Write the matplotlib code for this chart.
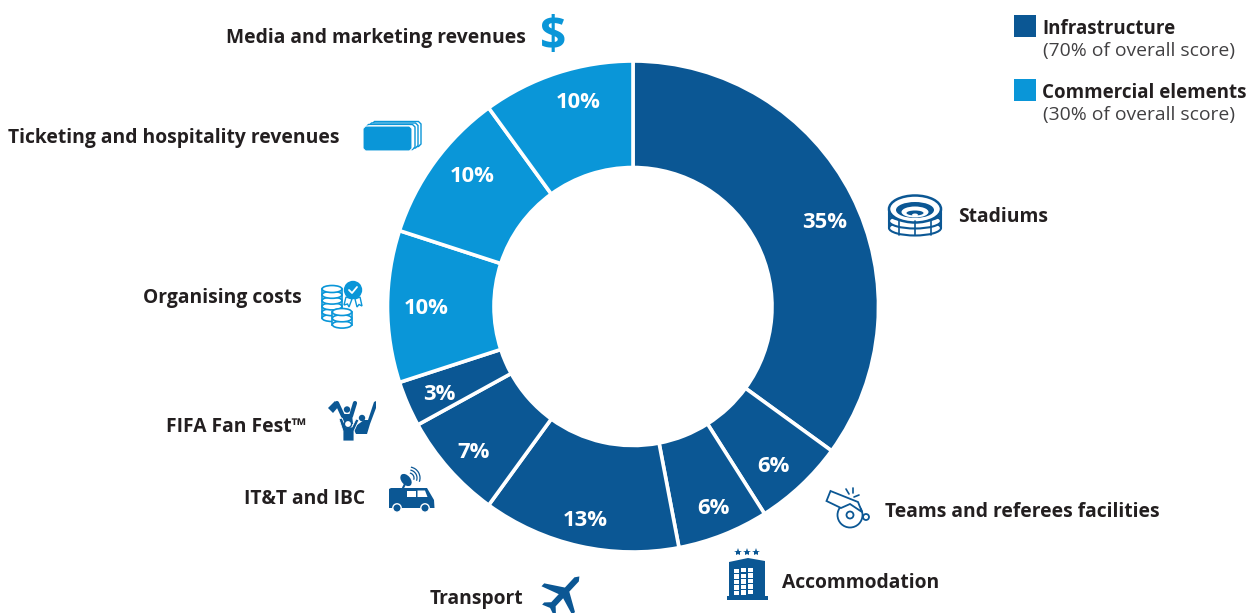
import matplotlib
matplotlib.use("Agg")
import matplotlib.pyplot as plt
from matplotlib.patches import Polygon, Circle, Ellipse, Rectangle, Arc
import numpy as np

DARK = "#0b5794"
LIGHT = "#0a96d8"
INK = "#231f20"
GREY = "#414042"

categories = ["Stadiums", "Teams and referees facilities", "Accommodation", "Transport",
              "IT&T and IBC", "FIFA Fan Fest\u2122", "Organising costs",
              "Ticketing and hospitality revenues", "Media and marketing revenues"]
weights = [35, 6, 6, 13, 7, 3, 10, 10, 10]
groups = ["Infrastructure"] * 6 + ["Commercial elements"] * 3
legend_titles = ["Infrastructure", "Commercial elements"]
legend_notes = ["(70% of overall score)", "(30% of overall score)"]

W, H = 1260, 613
plt.rcParams["font.family"] = ["Open Sans", "DejaVu Sans"]
fig = plt.figure(figsize=(W / 100, H / 100), dpi=100, facecolor="white")

# donut
cx, cy, R = 633, 306.5, 245.5
pie_ax = fig.add_axes([(cx - R) / W, 1 - (cy + R) / H, 2 * R / W, 2 * R / H])
colors = [DARK if g == "Infrastructure" else LIGHT for g in groups]
wedges, _ = pie_ax.pie(weights, colors=colors, startangle=90, counterclock=False, radius=1,
                       wedgeprops=dict(width=1 - 139 / 245.5, edgecolor="white", linewidth=2.6))
pie_ax.set_xlim(-1, 1)
pie_ax.set_ylim(-1, 1)
pie_ax.set_aspect("equal")
pie_ax.axis("off")

# overlay in pixel coordinates
ax = fig.add_axes([0, 0, 1, 1])
ax.set_xlim(0, W)
ax.set_ylim(H, 0)
ax.axis("off")
ax.patch.set_alpha(0)

pct_xy = [(825, 222), (773, 466), (713, 508), (585, 520), (474, 453), (439, 394),
          (426, 308), (472, 176), (578, 103)]
for w, (x, y) in zip(weights, pct_xy):
    ax.text(x, y, f"{w}%", color="white", fontsize=15.8, fontweight="bold", ha="center", va="center")

label_xy = [(958, 217, "left"), (885, 512, "left"), (782, 583, "left"), (523, 599, "right"),
            (365, 499, "right"), (306, 427, "right"), (302, 298, "right"),
            (340, 138, "right"), (526, 38, "right")]
for name, (x, y, ha) in zip(categories, label_xy):
    ax.text(x, y, name, color=INK, fontsize=13.85, fontweight="bold", ha=ha, va="center")

# legend
for title, note, col, y in zip(legend_titles, legend_notes, [DARK, LIGHT], [26, 90]):
    ax.add_patch(Rectangle((1014, y - 11), 22, 22, fc=col, ec="none"))
    ax.text(1042.5, y + 3, title, color=INK, fontsize=13.5, fontweight="bold", ha="left", va="center")
    ax.text(1043, y + 25, note, color=GREY, fontsize=13.9, ha="left", va="center")


def poly(pts, **kw):
    kw.setdefault("ec", "none")
    ax.add_patch(Polygon(pts, closed=True, **kw))


def line(pts, color, lw=1.3):
    p = np.array(pts)
    ax.plot(p[:, 0], p[:, 1], color=color, lw=lw, solid_capstyle="round")


# $ icon
ax.text(553, 38, "$", color=LIGHT, fontsize=33, fontweight="bold", ha="center", va="center")


# tickets
def ticket(x0, y0, x1, y1, fc, ec="white", lw=1.0):
    c = 2.5
    poly([(x0 + c, y0), (x1 - c, y0), (x1, y0 + c), (x1, y1 - c), (x1 - c, y1), (x0 + c, y1), (x0, y1 - c), (x0, y0 + c)],
         fc=fc, ec=ec, lw=lw)


ticket(372, 121.5, 421, 146.5, "white", ec=LIGHT, lw=1)
ticket(369, 123, 418, 148, "white", ec=LIGHT, lw=1)
ticket(366, 124.5, 415, 149.5, "white", ec=LIGHT, lw=1)
ticket(363, 126, 412, 151, LIGHT, ec="white", lw=0.8)


# coins
def coin_stack(x, ytop, w, n, step):
    h = 7
    ax.add_patch(Rectangle((x - w / 2, ytop), w, n * step, fc="white", ec=LIGHT, lw=1.2))
    for i in range(n, -1, -1):
        y = ytop + i * step
        ax.add_patch(Ellipse((x, y), w, h, fc="white", ec=LIGHT, lw=1.2))


coin_stack(332, 289, 20, 5, 5.8)
coin_stack(342, 312, 19.5, 2, 6.3)
poly([(346, 297), (352, 299), (349, 307), (347.5, 304), (344, 305)], fc="white", ec=LIGHT, lw=1)
poly([(355, 299), (360, 297), (362, 306), (359, 304.5), (357, 307)], fc="white", ec=LIGHT, lw=1)
ax.add_patch(Circle((353, 290), 9.2, fc=LIGHT, ec="none"))
line([(349, 290), (352, 293), (357, 287)], "white", 1.3)

# fans
poly([(328, 408), (335, 401), (339, 406), (333, 413)], fc=DARK)
line([(337, 403), (343, 416)], DARK, 3)
line([(355, 403), (351, 416)], DARK, 3)
poly([(342, 414), (352, 414), (353, 424), (343, 424)], fc=DARK)
ax.add_patch(Circle((347, 409.5), 3.2, fc=DARK, ec="none"))
poly([(353, 428), (364, 420), (368, 420), (374, 402), (376, 401), (376, 408), (370, 424), (367, 434), (356, 434)], fc=DARK)
ax.add_patch(Circle((362, 418), 3.2, fc=DARK, ec="none"))
poly([(339, 419), (342, 418), (346, 427), (352, 427), (356, 419), (359, 420), (354, 431), (354, 441), (343, 441), (343, 431)],
     fc=DARK, ec="white", lw=0.6)
ax.add_patch(Circle((348, 424), 3.6, fc="white", ec=DARK, lw=1))

# van + dish
poly([(389, 489), (391, 488), (427, 488), (434, 500), (434.5, 508), (389, 508)], fc=DARK)
poly([(407, 490.5), (416, 490.5), (416, 497), (407, 497)], fc="white")
poly([(417.5, 490.5), (425, 490.5), (427.5, 497), (417.5, 497)], fc="white")
for x in (397, 425):
    ax.add_patch(Circle((x, 508), 4.2, fc=DARK, ec="white", lw=1))
ax.add_patch(Ellipse((406, 480), 9, 14, angle=-40, fc=DARK, ec="none"))
line([(406, 482), (403, 488)], DARK, 1.5)
for r in (5, 8, 11):
    ax.add_patch(Arc((409, 478), 2 * r, 2 * r, theta1=280, theta2=20, ec=DARK, lw=0.9))

# plane
plane = np.array([(0, -24), (3, -20), (3, -6), (21, 5), (21, 9), (3, 3), (3, 14), (8, 19), (8, 22),
                  (0, 19), (-8, 22), (-8, 19), (-3, 14), (-3, 3), (-21, 9), (-21, 5), (-3, -6), (-3, -20)], float)
a = np.deg2rad(43)
rot = np.array([[np.cos(a), -np.sin(a)], [np.sin(a), np.cos(a)]])
poly(plane @ rot.T + np.array([563, 594]), fc=DARK)

# hotel
poly([(729, 566), (729, 562), (748, 558), (765, 561), (765, 596), (729, 596)], fc=DARK)
poly([(727, 596), (768, 596), (768, 600), (727, 600)], fc=DARK)
for i in range(3):
    for j in range(5):
        ax.add_patch(Rectangle((734 + i * 6.8, 568.5 + j * 5.6 - i * 0.5), 5.4, 4.4, fc="white", ec="none"))
for x in (738, 747, 756):
    ax.plot([x], [552], marker="*", ms=6, color=DARK, mew=0)

# whistle
ax.add_patch(Circle((866, 517), 3, fc="white", ec=DARK, lw=1.3))
ax.add_patch(Circle((850, 515), 12.5, fc="white", ec=DARK, lw=1.3))
poly([(826.5, 501), (830.5, 491), (858, 502), (862, 512), (850, 504), (841, 508)], fc="white", ec=DARK, lw=1.3)
ax.add_patch(Circle((850, 515), 3.5, fc="white", ec=DARK, lw=1.3))
line([(846, 489), (849, 494)], DARK, 1.2)
line([(853, 488), (853, 493)], DARK, 1.2)
line([(859, 495), (854, 497)], DARK, 1.2)

# stadium
sx, sw = 915, 52
for y in (228, 221, 214):
    ax.add_patch(Ellipse((sx, y), sw, 15, fc="white", ec=DARK, lw=1.5))
ax.add_patch(Ellipse((sx, 209), sw, 27, fc="white", ec=DARK, lw=1.8))
ax.add_patch(Ellipse((sx, 210), 38, 16, fc=DARK, ec="none"))
ax.add_patch(Ellipse((sx, 212), 27, 11, fc="white", ec="none"))
ax.add_patch(Ellipse((sx, 213), 17, 5, fc=DARK, ec="none"))
ax.add_patch(Ellipse((sx, 215), 6, 3, fc="white", ec="none"))
line([(889, 209), (889, 228)], DARK, 1.5)
line([(941, 209), (941, 228)], DARK, 1.5)
for x in (899, 915, 931):
    line([(x, 221), (x, 235)], DARK, 1.2)

fig.savefig("out.png", dpi=100, facecolor="white")
